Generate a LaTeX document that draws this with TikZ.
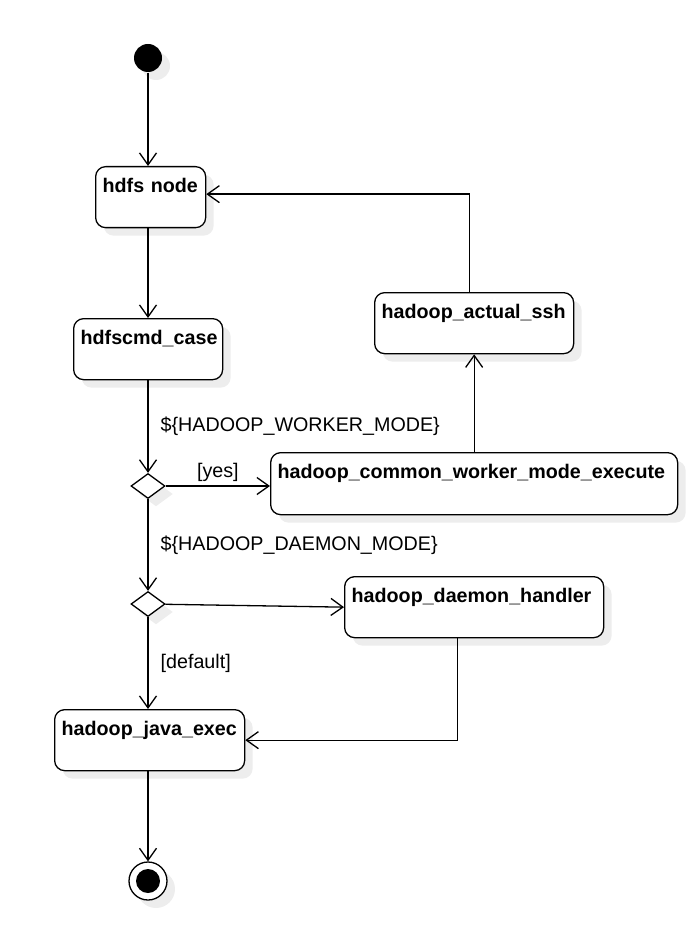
\documentclass[tikz,border=0pt]{standalone}
\usepackage{fontspec}
\setmainfont{Liberation Sans}
\usetikzlibrary{arrows.meta,shapes.geometric,shadows}
\hyphenpenalty=10000
\exhyphenpenalty=10000

\begin{document}
\begin{tikzpicture}[x=1pt, y=-1pt, line width=1.3pt,
	>={Straight Barb[length=12pt,width=17pt]},
	shade/.style={drop shadow={shadow xshift=8pt, shadow yshift=-8pt, fill=black!7, opacity=1}},
	state/.style={draw, shade, fill=white, rounded corners=10pt, anchor=north west, align=left,
		inner xsep=7pt, inner ysep=12pt, text height=14pt, text depth=23pt,
		font=\fontsize{19.7}{23}\selectfont\bfseries},
	decision/.style={diamond, draw, shade, fill=white, inner sep=0pt, minimum width=34pt, minimum height=25pt},
	guard/.style={anchor=west, inner sep=2pt, xshift=10pt, font=\fontsize{19.7}{23}\selectfont},
	cond/.style={font=\fontsize{19.7}{23}\selectfont}]
	\useasboundingbox (0,0) rectangle (700,933);
	
	% start and end
	\node[circle, fill=black, shade, inner sep=0pt, minimum size=28pt] (start) at (148,58) {};
	\node[circle, draw, fill=white, shade, inner sep=0pt, minimum size=38pt] (stop) at (148,881) {};
	\fill (stop) circle (12pt);
	
	% actions
	\node[state, text width=96pt] (hdfs) at (95,166) {hdfs node};
	\node[state, text width=135pt] (hdfscmd) at (73,318) {hdfscmd\_case};
	\node[state, text width=185pt] (ssh) at (374,292) {hadoop\_actual\_ssh};
	\node[state, text width=393pt, text depth=24pt] (worker) at (270,452) {hadoop\_common\_worker\_mode\_execute};
	\node[state, text width=245pt] (handler) at (344,576) {hadoop\_daemon\_handler};
	\node[state, text width=176pt] (java) at (54,709) {hadoop\_java\_exec};
	
	% choices
	\node[decision] (d1) at (148,486) {};
	\node[decision] (d2) at (148,604) {};
	
	\draw[->] (start) -- (start |- hdfs.north);
	\draw[->] (hdfs.south -| start) -- (hdfscmd.north -| start);
	\draw[->] (hdfscmd.south -| start) -- node[guard] {\$\{HADOOP\_WORKER\_MODE\}} (d1);
	\draw[->] (d1) -- node[cond, above] {[yes]} (d1 -| worker.west);
	\draw[->] (worker.north) -- (ssh.south);
	\draw[->] ([xshift=-5pt]ssh.north) |- ([yshift=3pt]hdfs.east);
	\draw[->] (d1) -- node[guard] {\$\{HADOOP\_DAEMON\_MODE\}} (d2);
	\draw[->] (d2) -- (handler.west);
	\draw[->] (d2) -- node[guard] {[default]} (d2 |- java.north);
	\draw[->] ([xshift=-17pt]handler.south) |- (java.east);
	\draw[->] (java.south -| stop) -- (stop);
	
\end{tikzpicture}
\end{document}
